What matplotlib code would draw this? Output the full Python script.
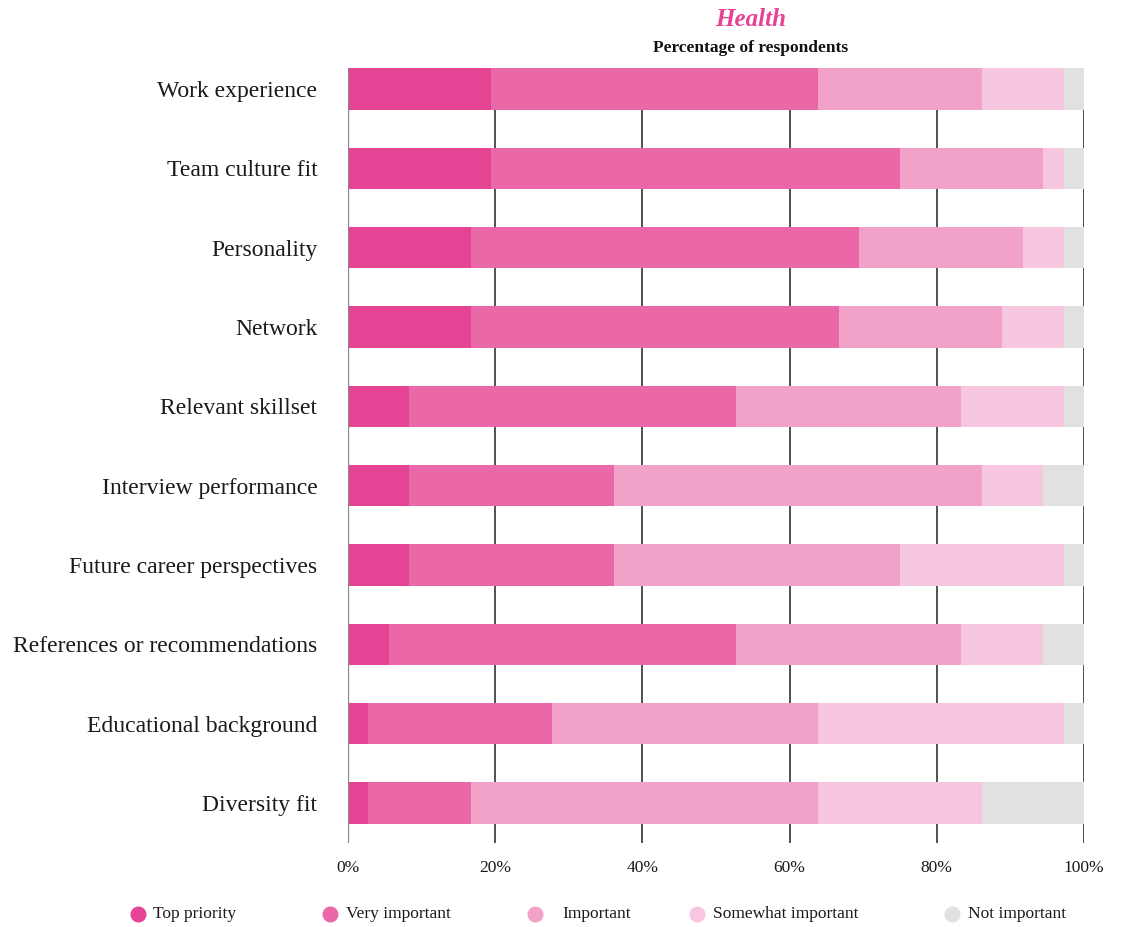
import numpy as np
import matplotlib.pyplot as plt
from matplotlib.lines import Line2D

plt.rcParams['font.family'] = ['Liberation Serif', 'DejaVu Serif']

# answers per factor, out of 36 respondents
factors = ["Work experience", "Team culture fit", "Personality", "Network",
           "Relevant skillset", "Interview performance",
           "Future career perspectives", "References or recommendations",
           "Educational background", "Diversity fit"]
top_priority = [7, 7, 6, 6, 3, 3, 3, 2, 1, 1]
very_important = [16, 20, 19, 18, 16, 10, 10, 17, 9, 5]
important = [8, 7, 8, 8, 11, 18, 14, 11, 13, 17]
somewhat_important = [4, 1, 2, 3, 5, 3, 8, 4, 12, 8]
not_important = [1, 1, 1, 1, 1, 2, 1, 2, 1, 5]
n_respondents = 36

levels = ["Top priority", "Very important", "Important",
          "Somewhat important", "Not important"]
colors = ["#E54394", "#EA68A8", "#F2A1C8", "#F7C6DF", "#E0E1E0"]
series = [top_priority, very_important, important, somewhat_important, not_important]

fig = plt.figure(figsize=(11.21, 9.27), dpi=100)
ax = fig.add_axes([348 / 1121, 1 - 843 / 927, (1084 - 348) / 1121, (843 - 68) / 927])

y = np.arange(len(factors))
left = np.zeros(len(factors))
for vals, col in zip(series, colors):
    pct = np.array(vals) / n_respondents * 100
    ax.barh(y, pct, left=left, height=0.52, color=col, zorder=2)
    left += pct

for x in [20, 40, 60, 80, 100]:
    ax.axvline(x, color="#222222", lw=1.1, zorder=1)
ax.axvline(0, color="#888888", lw=1.6, zorder=3)

ax.set_xlim(0, 100)
ax.set_ylim(9.505, -0.265)
ax.set_yticks(y)
ax.set_yticklabels(factors, fontsize=17, color="#1a1a1a")
ax.set_xticks([0, 20, 40, 60, 80, 100])
ax.set_xticklabels(["0%", "20%", "40%", "60%", "80%", "100%"], fontsize=12.5, color="#1a1a1a")
ax.tick_params(length=0, axis="both")
ax.tick_params(axis="y", pad=22)
ax.tick_params(axis="x", pad=12)
for s in ax.spines.values():
    s.set_visible(False)

fig.text(751 / 1121, 1 - 19 / 927, "Health", ha="center", va="center",
         fontsize=18, fontstyle="italic", fontweight="bold", color="#E54394")
fig.text(751 / 1121, 1 - 48 / 927, "Percentage of respondents", ha="center", va="center",
         fontsize=12.5, fontweight="bold", color="#111111")

# legend row along the bottom
marker_x = [138, 330, 535, 697, 952]
text_x = [153, 346, 562, 713, 968]
for mx, tx, lab, col in zip(marker_x, text_x, levels, colors):
    fig.add_artist(Line2D([mx / 1121], [1 - 914 / 927], marker="o", markersize=10.5,
                          color=col, linestyle="none", transform=fig.transFigure))
    fig.text(tx / 1121, 1 - 914 / 927, lab, ha="left", va="center",
             fontsize=12.5, color="#1a1a1a")

fig.savefig("out.png", dpi=100)
